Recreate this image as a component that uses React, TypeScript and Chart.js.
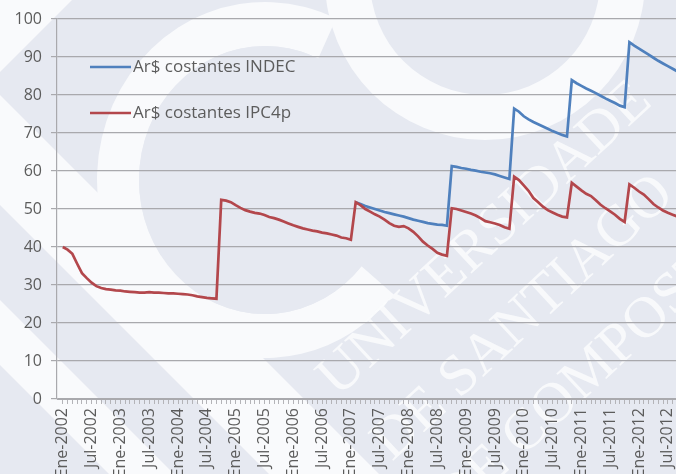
import React, { useEffect, useRef } from "react";
import { Chart, registerables } from "chart.js";

Chart.register(...registerables);

// x tick labels, one every 6 months starting at month 0 (Ene-2002)
const tickLabels = [
  "Ene-2002", "Jul-2002", "Ene-2003", "Jul-2003", "Ene-2004", "Jul-2004",
  "Ene-2005", "Jul-2005", "Ene-2006", "Jul-2006", "Ene-2007", "Jul-2007",
  "Ene-2008", "Jul-2008", "Ene-2009", "Jul-2009", "Ene-2010", "Jul-2010",
  "Ene-2011", "Jul-2011", "Ene-2012", "Jul-2012",
];

const seriesNames = ["Ar$ costantes INDEC", "Ar$ costantes IPC4p"];

// monthly values, month 0 = Ene-2002
const ipc4p = [
  40.0, 39.3, 38.2, 35.6, 33.1, 31.8, 30.6, 29.7, 29.2, 28.9,
  28.8, 28.6, 28.5, 28.3, 28.2, 28.1, 28.0, 28.0, 28.1, 28.0,
  28.0, 27.9, 27.8, 27.8, 27.7, 27.6, 27.5, 27.3, 27.0, 26.8,
  26.6, 26.5, 26.4,
  52.4, 52.2, 51.8, 51.0, 50.3, 49.7, 49.3,
  49.0, 48.8, 48.4, 47.9, 47.6, 47.2, 46.7, 46.2, 45.7, 45.3,
  44.9, 44.6, 44.3, 44.1, 43.8, 43.6, 43.3, 43.0, 42.5, 42.3,
  41.9,
  51.8, 51.0, 50.0, 49.3, 48.6, 48.0, 47.2, 46.3, 45.6,
  45.3, 45.5, 44.9, 44.0, 42.8, 41.4, 40.4, 39.5, 38.5, 38.0,
  37.7,
  50.2, 50.0, 49.6, 49.2, 48.8, 48.3, 47.6, 46.8, 46.5,
  46.2, 45.8, 45.2, 44.8,
  58.5, 57.6, 56.2, 54.8, 52.9, 51.8,
  50.6, 49.7, 49.1, 48.5, 48.0, 47.8,
  56.9, 55.9, 54.9, 54.0,
  53.4, 52.3, 51.1, 50.2, 49.4, 48.5, 47.4, 46.6,
  56.5, 55.6,
  54.6, 53.8, 52.6, 51.3, 50.4, 49.6, 49.0, 48.5, 48.0,
];

// INDEC series (coincides with IPC4p before Feb-2007, drawn underneath)
const indec = [
  null, null, null, null, null, null, null, null, null, null,
  null, null, null, null, null, null, null, null, null, null,
  null, null, null, null, null, null, null, null, null, null,
  null, null, null,
  null, null, null, null, null, null, null,
  null, null, null, null, null, null, null, null, null, null,
  null, null, null, null, null, null, null, null, null, null,
  null,
  51.8, 51.3, 50.8, 50.4, 50.0, 49.6, 49.2, 48.9, 48.6,
  48.3, 48.0, 47.6, 47.2, 46.9, 46.6, 46.3, 46.1, 45.9, 45.8,
  45.6,
  61.3, 61.1, 60.8, 60.6, 60.3, 60.1, 59.8, 59.6, 59.4,
  59.1, 58.7, 58.3, 57.9,
  76.4, 75.6, 74.4, 73.6, 72.9, 72.3,
  71.7, 71.1, 70.5, 70.0, 69.5, 69.1,
  83.9, 83.1, 82.4, 81.7,
  81.1, 80.5, 79.8, 79.1, 78.5, 77.9, 77.2, 76.8,
  93.9, 93.0,
  92.2, 91.4, 90.6, 89.8, 89.0, 88.3, 87.6, 86.9, 86.2,
];

const BLUE = "#4f80bd";
const RED = "#b3474c";
const TEXT = "#5c5c5c";
const GRID = "#a9a9ad";
const FONT = "'Open Sans', 'DejaVu Sans', sans-serif";
const LAV = "#e6e9f1";
const WHITE = "#f9fafc";

const watermark = {
  id: "watermark",
  beforeDraw(chart: any) {
    const { ctx, width, height } = chart;
    ctx.save();
    ctx.fillStyle = LAV;
    ctx.fillRect(0, 0, width, height);
    ctx.fillStyle = WHITE;
    const poly = (pts: number[][]) => {
      ctx.beginPath();
      pts.forEach((p, i) => (i ? ctx.lineTo(p[0], p[1]) : ctx.moveTo(p[0], p[1])));
      ctx.closePath();
      ctx.fill();
    };
    // top-left corner triangle
    poly([[0, 0], [72, 0], [0, 72]]);
    // white diagonal band, lower left
    poly([[0, 95], [0, 205], [269, 474], [379, 474]]);
    // second white band, bottom-left
    poly([[0, 300], [0, 365], [109, 474], [174, 474]]);
    // big "C" ring
    ctx.beginPath();
    const s1 = (-65 * Math.PI) / 180;
    const e1 = (40 * Math.PI) / 180;
    ctx.ellipse(265, 180, 168, 178, 0, s1, e1, true);
    ctx.ellipse(265, 180, 126, 134, 0, e1, s1, false);
    ctx.closePath();
    ctx.fill();
    // C interior stays lavender
    ctx.fillStyle = LAV;
    ctx.beginPath();
    ctx.ellipse(265, 180, 126, 134, 0, 0, Math.PI * 2);
    ctx.fill();
    ctx.fillStyle = WHITE;
    // top right ring
    ctx.beginPath();
    ctx.arc(485, -20, 160, 0, Math.PI, false);
    ctx.arc(485, -20, 115, Math.PI, 0, true);
    ctx.closePath();
    ctx.fill();
    // diagonal text
    ctx.font = "58px 'Liberation Serif', serif";
    ctx.fillStyle = "rgba(250,251,253,0.85)";
    const lines = ["UNIVERSIDADE", "DE SANTIAGO", "DE COMPOSTELA"];
    const starts = [[338, 398], [392, 462], [455, 520]];
    lines.forEach((t, i) => {
      ctx.save();
      ctx.translate(starts[i][0], starts[i][1]);
      ctx.rotate((-43 * Math.PI) / 180);
      ctx.fillText(t, 0, 0);
      ctx.restore();
    });
    ctx.restore();
  },
};

const legendPlugin = {
  id: "customLegend",
  afterDatasetsDraw(chart: any) {
    const { ctx } = chart;
    const items = [
      { label: seriesNames[0], color: BLUE, y: 67 },
      { label: seriesNames[1], color: RED, y: 113 },
    ];
    ctx.save();
    ctx.font = `17px ${FONT}`;
    ctx.textBaseline = "middle";
    items.forEach((it) => {
      ctx.strokeStyle = it.color;
      ctx.lineWidth = 2.6;
      ctx.beginPath();
      ctx.moveTo(90, it.y);
      ctx.lineTo(131, it.y);
      ctx.stroke();
      ctx.fillStyle = TEXT;
      ctx.fillText(it.label, 133, it.y);
    });
    ctx.restore();
  },
};

export default function App() {
  const ref = useRef<HTMLCanvasElement | null>(null);

  useEffect(() => {
    if (!ref.current) return;
    const points = (arr: (number | null)[]) => arr.map((v, i) => ({ x: i, y: v }));
    const chart = new Chart(ref.current, {
      type: "line",
      data: {
        datasets: [
          {
            label: seriesNames[0],
            data: points(indec),
            borderColor: BLUE,
            borderWidth: 2.7,
            pointRadius: 0,
            tension: 0,
            spanGaps: false,
            order: 1,
          },
          {
            label: seriesNames[1],
            data: points(ipc4p),
            borderColor: RED,
            borderWidth: 2.7,
            pointRadius: 0,
            tension: 0,
            order: 0,
          },
        ],
      },
      options: {
        animation: false,
        responsive: true,
        maintainAspectRatio: false,
        layout: { padding: { top: 19, left: 0, right: 0, bottom: 0 } },
        plugins: { legend: { display: false }, tooltip: { enabled: false } },
        scales: {
          x: {
            type: "linear",
            min: -1.2,
            max: 127.7,
            afterBuildTicks: (scale: any) => {
              scale.ticks = ipc4p.map((_, i) => ({ value: i }));
            },
            afterFit: (scale: any) => {
              scale.height = 75;
              scale.paddingLeft = 0;
              scale.paddingRight = 0;
            },
            grid: {
              drawOnChartArea: false,
              drawTicks: true,
              tickLength: 5,
              color: "#b4b4b8",
            },
            border: { display: true, color: GRID, width: 1 },
            ticks: {
              autoSkip: false,
              maxRotation: 90,
              minRotation: 90,
              padding: 4,
              color: TEXT,
              font: { family: FONT, size: 16 },
              callback: (value: any) => {
                const v = Number(value);
                return v % 6 === 0 ? tickLabels[v / 6] : "";
              },
            },
          },
          y: {
            min: 0,
            max: 100,
            afterFit: (scale: any) => {
              scale.width = 57;
            },
            grid: { color: GRID, tickLength: 6, lineWidth: 1.2 },
            border: { display: true, color: GRID, width: 1.2 },
            ticks: {
              stepSize: 10,
              padding: 9,
              color: TEXT,
              font: { family: FONT, size: 16 },
            },
          },
        },
      },
      plugins: [watermark, legendPlugin],
    });
    return () => chart.destroy();
  }, []);

  return (
    <div style={{ position: "fixed", left: 0, top: 0, width: 676, height: 474, overflow: "hidden" }}>
      <canvas ref={ref} />
    </div>
  );
}
